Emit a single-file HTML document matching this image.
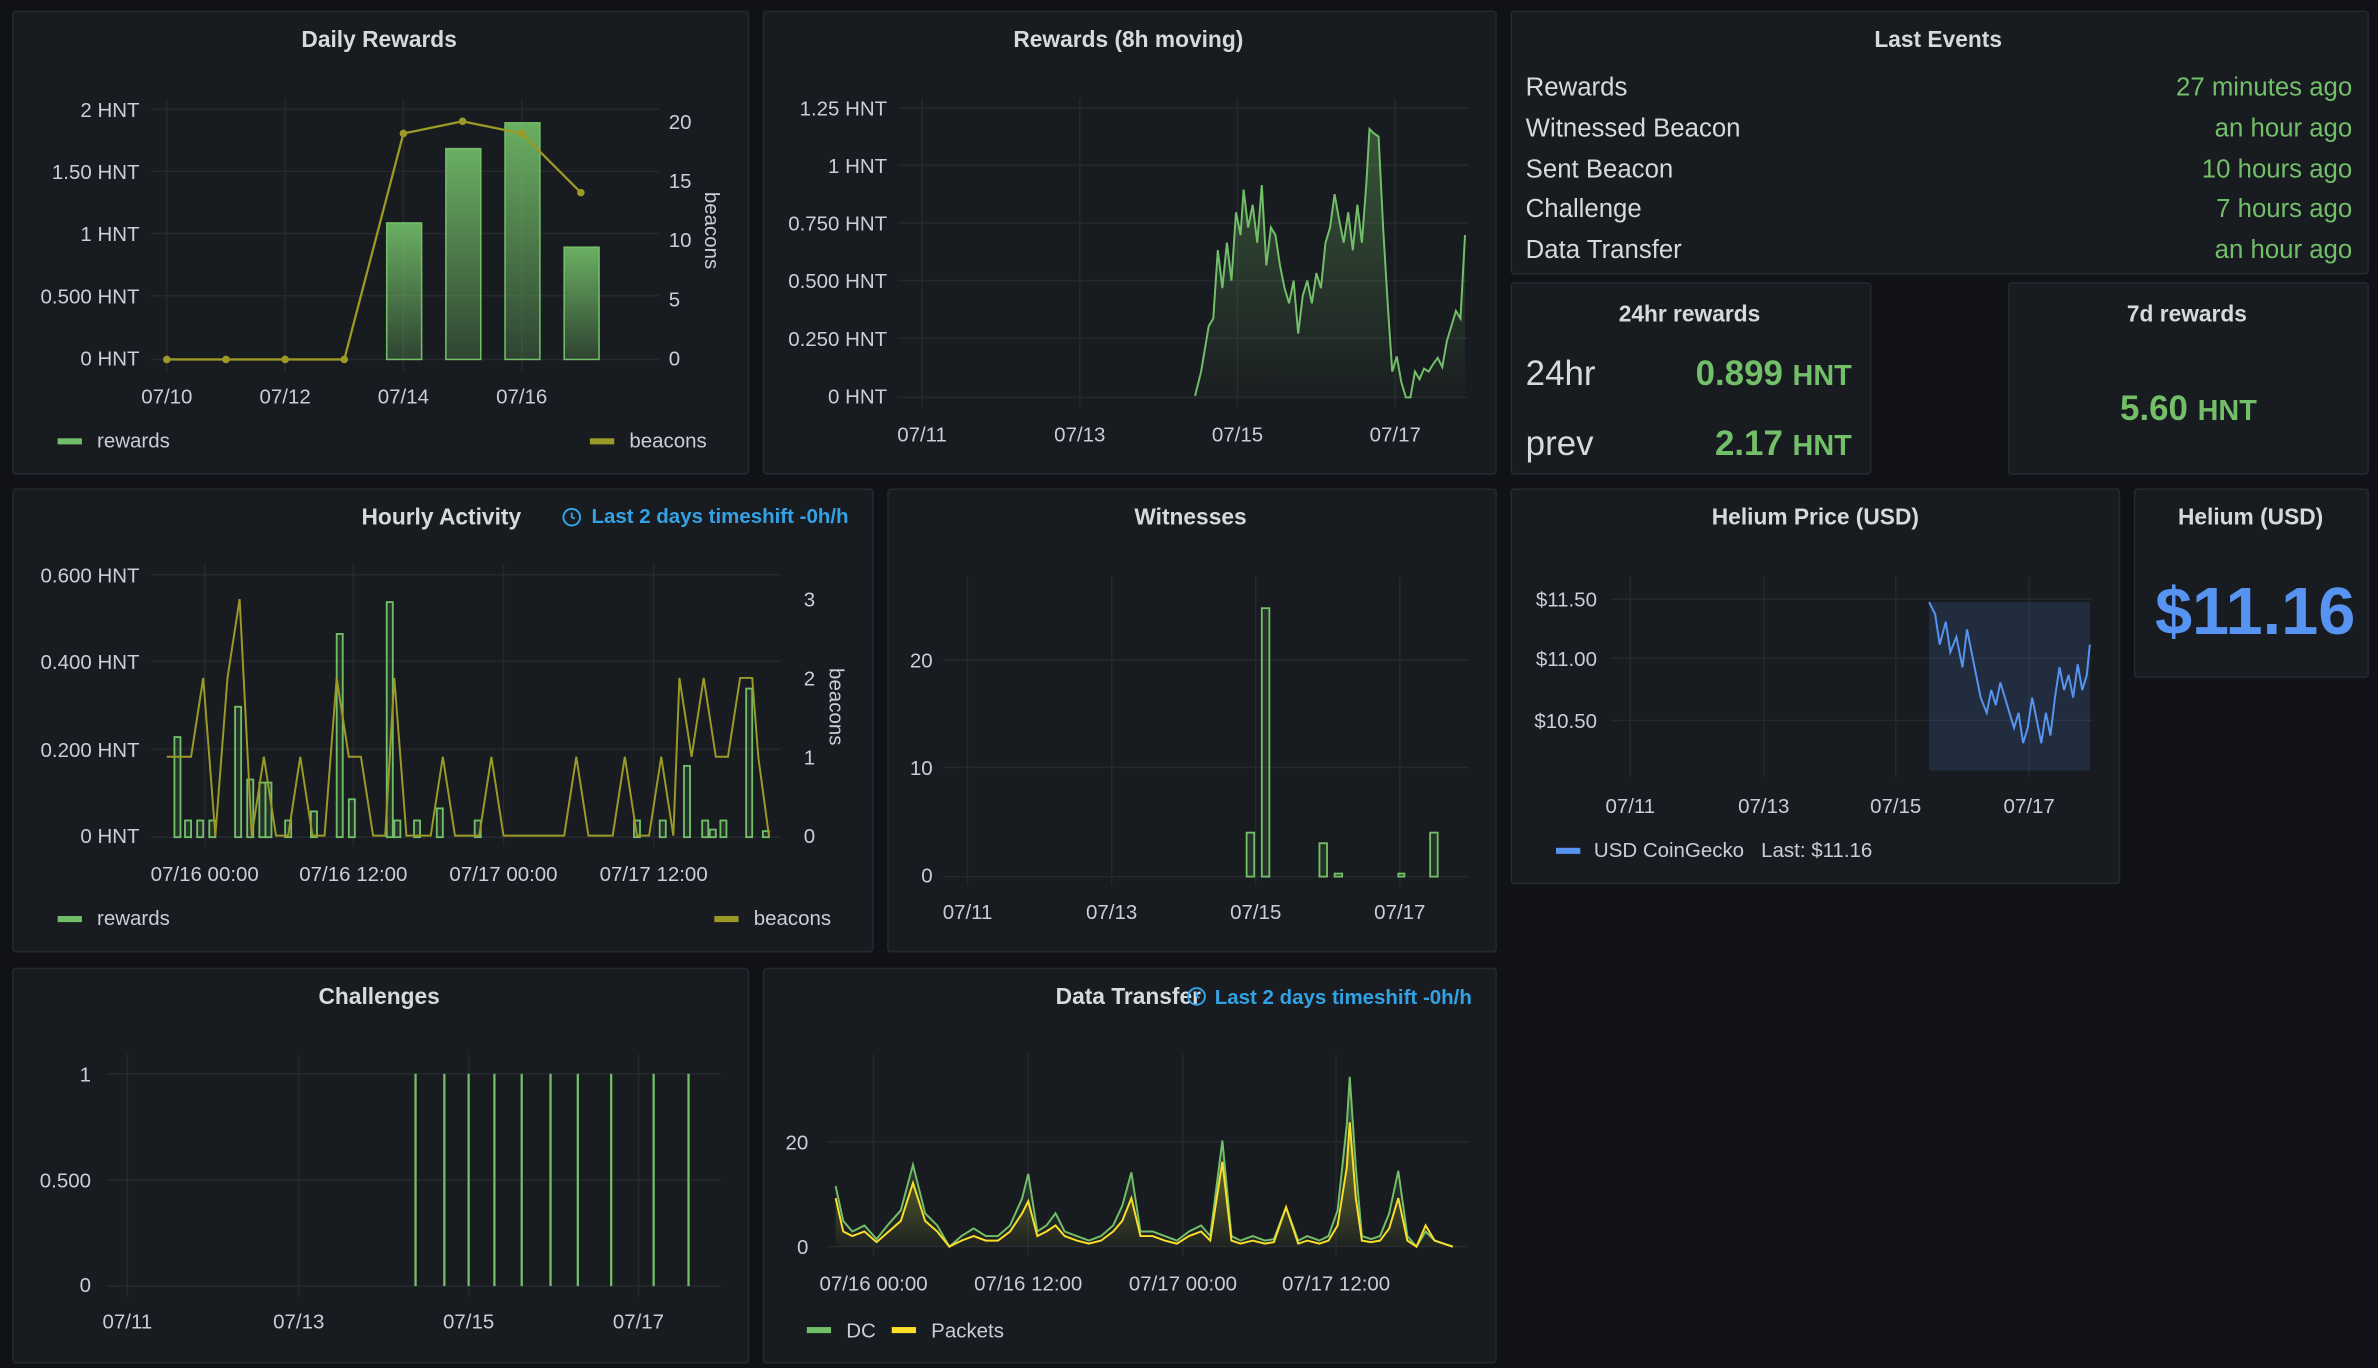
<!DOCTYPE html>
<html><head><meta charset="utf-8"><style>
html,body{margin:0;padding:0;background:#111217;}
svg{display:block;font-family:"Liberation Sans",sans-serif;}
.p{fill:#181b1f;stroke:#262930;stroke-width:1;}
.t{fill:#d8d9da;font-size:15px;font-weight:bold;text-anchor:middle;}
.l{fill:#ccccdc;font-size:13.5px;}
.r{text-anchor:end;}
.m{text-anchor:middle;}
.g{stroke:#25282d;stroke-width:1;}
.ev{fill:#d8d9da;font-size:17px;}
.evr{fill:#73bf69;font-size:17px;text-anchor:end;}
.blue{fill:#33a2e5;font-size:13.5px;font-weight:bold;}
</style></head><body>
<svg width="2378" height="1368" viewBox="0 0 1568 902" preserveAspectRatio="none">
<defs>
<linearGradient id="gb" x1="0" y1="0" x2="0" y2="1"><stop offset="0" stop-color="#73bf69" stop-opacity="0.9"/><stop offset="1" stop-color="#73bf69" stop-opacity="0.25"/></linearGradient>
<linearGradient id="ga" x1="0" y1="0" x2="0" y2="1"><stop offset="0" stop-color="#73bf69" stop-opacity="0.35"/><stop offset="1" stop-color="#73bf69" stop-opacity="0.02"/></linearGradient>
<linearGradient id="gy" x1="0" y1="0" x2="0" y2="1"><stop offset="0" stop-color="#fade2a" stop-opacity="0.35"/><stop offset="1" stop-color="#fade2a" stop-opacity="0.02"/></linearGradient>
</defs>
<rect width="1568" height="902" fill="#111217"/>
<rect class="p" x="8.5" y="7.5" width="485" height="305" rx="2"/>
<rect class="p" x="503.5" y="7.5" width="483" height="305" rx="2"/>
<rect class="p" x="996.5" y="7.5" width="565" height="173" rx="2"/>
<rect class="p" x="996.5" y="186.5" width="237" height="126" rx="2"/>
<rect class="p" x="1324.5" y="186.5" width="237" height="126" rx="2"/>
<rect class="p" x="8.5" y="322.5" width="567" height="305" rx="2"/>
<rect class="p" x="585.5" y="322.5" width="401" height="305" rx="2"/>
<rect class="p" x="996.5" y="322.5" width="401" height="260" rx="2"/>
<rect class="p" x="1407.5" y="322.5" width="154" height="124" rx="2"/>
<rect class="p" x="8.5" y="638.5" width="485" height="260" rx="2"/>
<rect class="p" x="503.5" y="638.5" width="483" height="260" rx="2"/>

<text class="t" x="250" y="31">Daily Rewards</text>
<g class="g"><line x1="100" y1="72" x2="435" y2="72"/><line x1="100" y1="113" x2="435" y2="113"/><line x1="100" y1="154" x2="435" y2="154"/><line x1="100" y1="195" x2="435" y2="195"/><line x1="100" y1="237" x2="435" y2="237"/>
<line x1="110" y1="65" x2="110" y2="245"/><line x1="188" y1="65" x2="188" y2="245"/><line x1="266" y1="65" x2="266" y2="245"/><line x1="344" y1="65" x2="344" y2="245"/></g>
<g class="l r"><text x="92" y="77">2 HNT</text><text x="92" y="118">1.50 HNT</text><text x="92" y="159">1 HNT</text><text x="92" y="200">0.500 HNT</text><text x="92" y="241">0 HNT</text></g>
<g class="l"><text x="441" y="85">20</text><text x="441" y="124">15</text><text x="441" y="163">10</text><text x="441" y="202">5</text><text x="441" y="241">0</text></g>
<text class="l m" transform="translate(465,152) rotate(90)">beacons</text>
<g class="l m"><text x="110" y="266">07/10</text><text x="188" y="266">07/12</text><text x="266" y="266">07/14</text><text x="344" y="266">07/16</text></g>
<g fill="url(#gb)" stroke="#73bf69" stroke-width="1"><rect x="255" y="147" width="23" height="90"/><rect x="294" y="98" width="23" height="139"/><rect x="333" y="81" width="23" height="156"/><rect x="372" y="163" width="23" height="74"/></g>
<polyline fill="none" stroke="#9b9a27" stroke-width="1.5" points="110,237 149,237 188,237 227,237 266,88 305,80 344,88 383,127"/>
<g fill="#9b9a27"><circle cx="110" cy="237" r="2.5"/><circle cx="149" cy="237" r="2.5"/><circle cx="188" cy="237" r="2.5"/><circle cx="227" cy="237" r="2.5"/><circle cx="266" cy="88" r="2.5"/><circle cx="305" cy="80" r="2.5"/><circle cx="344" cy="88" r="2.5"/><circle cx="383" cy="127" r="2.5"/></g>
<rect x="38" y="289" width="16" height="4" fill="#73bf69"/><text class="l" x="64" y="295">rewards</text>
<rect x="389" y="289" width="16" height="4" fill="#9b9a27"/><text class="l" x="415" y="295">beacons</text>

<text class="t" x="744" y="31">Rewards (8h moving)</text>
<g class="g"><line x1="592" y1="71" x2="968" y2="71"/><line x1="592" y1="109" x2="968" y2="109"/><line x1="592" y1="147" x2="968" y2="147"/><line x1="592" y1="185" x2="968" y2="185"/><line x1="592" y1="223" x2="968" y2="223"/><line x1="592" y1="262" x2="968" y2="262"/>
<line x1="608" y1="65" x2="608" y2="268"/><line x1="712" y1="65" x2="712" y2="268"/><line x1="816" y1="65" x2="816" y2="268"/><line x1="920" y1="65" x2="920" y2="268"/></g>
<g class="l r"><text x="585" y="76">1.25 HNT</text><text x="585" y="114">1 HNT</text><text x="585" y="152">0.750 HNT</text><text x="585" y="190">0.500 HNT</text><text x="585" y="228">0.250 HNT</text><text x="585" y="266">0 HNT</text></g>
<g class="l m"><text x="608" y="291">07/11</text><text x="712" y="291">07/13</text><text x="816" y="291">07/15</text><text x="920" y="291">07/17</text></g>
<path fill="url(#ga)" d="M788,261 L792,245 797,215 800,210 803,165 806,190 809,160 812,185 815,140 818,155 820,125 823,150 826,135 829,160 832,122 835,175 838,150 841,155 844,175 847,190 850,200 853,185 856,220 859,195 862,185 865,200 868,180 871,190 874,160 877,150 880,128 883,145 886,160 889,140 892,165 895,135 898,160 901,120 903,85 906,88 909,90 912,150 915,200 918,245 921,235 924,252 927,262 930,262 933,245 936,250 939,243 942,245 945,240 948,236 951,242 954,225 957,215 960,205 963,210 966,155 L966,262 L788,262 Z"/>
<polyline fill="none" stroke="#73bf69" stroke-width="1.3" points="788,261 792,245 797,215 800,210 803,165 806,190 809,160 812,185 815,140 818,155 820,125 823,150 826,135 829,160 832,122 835,175 838,150 841,155 844,175 847,190 850,200 853,185 856,220 859,195 862,185 865,200 868,180 871,190 874,160 877,150 880,128 883,145 886,160 889,140 892,165 895,135 898,160 901,120 903,85 906,88 909,90 912,150 915,200 918,245 921,235 924,252 927,262 930,262 933,245 936,250 939,243 942,245 945,240 948,236 951,242 954,225 957,215 960,205 963,210 966,155"/>

<text class="t" x="1278" y="31">Last Events</text>
<text class="ev" x="1006" y="63">Rewards</text><text class="evr" x="1551" y="63">27 minutes ago</text>
<text class="ev" x="1006" y="90">Witnessed Beacon</text><text class="evr" x="1551" y="90">an hour ago</text>
<text class="ev" x="1006" y="117">Sent Beacon</text><text class="evr" x="1551" y="117">10 hours ago</text>
<text class="ev" x="1006" y="143">Challenge</text><text class="evr" x="1551" y="143">7 hours ago</text>
<text class="ev" x="1006" y="170">Data Transfer</text><text class="evr" x="1551" y="170">an hour ago</text>

<text class="t" x="1114" y="212">24hr rewards</text>
<text x="1006" y="254" fill="#d8d9da" font-size="23">24hr</text>
<text x="1221" y="254" fill="#73bf69" font-size="23" font-weight="bold" text-anchor="end">0.899 <tspan font-size="19">HNT</tspan></text>
<text x="1006" y="300" fill="#d8d9da" font-size="23">prev</text>
<text x="1221" y="300" fill="#73bf69" font-size="23" font-weight="bold" text-anchor="end">2.17 <tspan font-size="19">HNT</tspan></text>
<text class="t" x="1442" y="212">7d rewards</text>
<text x="1443" y="277" fill="#73bf69" font-size="23" font-weight="bold" text-anchor="middle">5.60 <tspan font-size="19">HNT</tspan></text>

<text class="t" x="291" y="346">Hourly Activity</text>
<circle cx="377" cy="341" r="5.5" fill="none" stroke="#33a2e5" stroke-width="1.3"/><path d="M377,338 L377,341 L379,342" stroke="#33a2e5" fill="none" stroke-width="1.2"/>
<text class="blue" x="390" y="345">Last 2 days timeshift -0h/h</text>
<g class="g"><line x1="100" y1="379" x2="515" y2="379"/><line x1="100" y1="436" x2="515" y2="436"/><line x1="100" y1="494" x2="515" y2="494"/><line x1="100" y1="552" x2="515" y2="552"/>
<line x1="135" y1="372" x2="135" y2="558"/><line x1="233" y1="372" x2="233" y2="558"/><line x1="332" y1="372" x2="332" y2="558"/><line x1="431" y1="372" x2="431" y2="558"/></g>
<g class="l r"><text x="92" y="384">0.600 HNT</text><text x="92" y="441">0.400 HNT</text><text x="92" y="499">0.200 HNT</text><text x="92" y="556">0 HNT</text></g>
<g class="l"><text x="530" y="400">3</text><text x="530" y="452">2</text><text x="530" y="504">1</text><text x="530" y="556">0</text></g>
<text class="l m" transform="translate(547,466) rotate(90)">beacons</text>
<g class="l m"><text x="135" y="581">07/16 00:00</text><text x="233" y="581">07/16 12:00</text><text x="332" y="581">07/17 00:00</text><text x="431" y="581">07/17 12:00</text></g>
<g fill="#73bf69" fill-opacity="0.15" stroke="#73bf69" stroke-width="1.2">
<rect x="115" y="486" width="4" height="66"/><rect x="122" y="541" width="4" height="11"/><rect x="130" y="541" width="4" height="11"/><rect x="138" y="541" width="4" height="11"/><rect x="155" y="466" width="4" height="86"/><rect x="163" y="514" width="4" height="38"/><rect x="171" y="516" width="4" height="36"/><rect x="175" y="516" width="4" height="36"/><rect x="188" y="541" width="4" height="11"/><rect x="205" y="535" width="4" height="17"/><rect x="222" y="418" width="4" height="134"/><rect x="230" y="527" width="4" height="25"/><rect x="255" y="397" width="4" height="155"/><rect x="260" y="541" width="4" height="11"/><rect x="273" y="541" width="4" height="11"/><rect x="288" y="533" width="4" height="19"/><rect x="313" y="541" width="4" height="11"/><rect x="418" y="541" width="4" height="11"/><rect x="435" y="541" width="4" height="11"/><rect x="451" y="505" width="4" height="47"/><rect x="463" y="541" width="4" height="11"/><rect x="468" y="547" width="4" height="5"/><rect x="475" y="541" width="4" height="11"/><rect x="492" y="454" width="4" height="98"/><rect x="503" y="548" width="4" height="4"/></g>
<polyline fill="none" stroke="#9b9a27" stroke-width="1.3" points="110,499 118,499 126,499 134,447 142,551 150,447 158,395 166,551 174,499 182,551 190,551 198,499 206,551 214,551 222,447 230,499 238,499 246,551 254,551 260,447 268,551 276,551 284,551 292,499 300,551 308,551 316,551 324,499 332,551 340,551 348,551 356,551 364,551 372,551 380,499 388,551 396,551 404,551 412,499 420,551 428,551 436,499 444,551 448,447 456,499 464,447 472,499 480,499 488,447 496,447 500,499 507,551"/>
<rect x="38" y="604" width="16" height="4" fill="#73bf69"/><text class="l" x="64" y="610">rewards</text>
<rect x="471" y="604" width="16" height="4" fill="#9b9a27"/><text class="l" x="497" y="610">beacons</text>

<text class="t" x="785" y="346">Witnesses</text>
<g class="g"><line x1="622" y1="435" x2="968" y2="435"/><line x1="622" y1="506" x2="968" y2="506"/><line x1="622" y1="578" x2="968" y2="578"/>
<line x1="638" y1="380" x2="638" y2="584"/><line x1="733" y1="380" x2="733" y2="584"/><line x1="828" y1="380" x2="828" y2="584"/><line x1="923" y1="380" x2="923" y2="584"/></g>
<g class="l r"><text x="615" y="440">20</text><text x="615" y="511">10</text><text x="615" y="582">0</text></g>
<g class="l m"><text x="638" y="606">07/11</text><text x="733" y="606">07/13</text><text x="828" y="606">07/15</text><text x="923" y="606">07/17</text></g>
<g fill="#73bf69" fill-opacity="0.15" stroke="#73bf69" stroke-width="1.2"><rect x="822" y="549" width="5" height="29"/><rect x="832" y="401" width="5" height="177"/><rect x="870" y="556" width="5" height="22"/><rect x="880" y="576" width="5" height="2"/><rect x="922" y="576" width="4" height="2"/><rect x="943" y="549" width="5" height="29"/></g>

<text class="t" x="1197" y="346">Helium Price (USD)</text>
<g class="g"><line x1="1062" y1="395" x2="1380" y2="395"/><line x1="1062" y1="434" x2="1380" y2="434"/><line x1="1062" y1="475" x2="1380" y2="475"/>
<line x1="1075" y1="380" x2="1075" y2="512"/><line x1="1163" y1="380" x2="1163" y2="512"/><line x1="1250" y1="380" x2="1250" y2="512"/><line x1="1338" y1="380" x2="1338" y2="512"/></g>
<g class="l r"><text x="1053" y="400">$11.50</text><text x="1053" y="439">$11.00</text><text x="1053" y="480">$10.50</text></g>
<g class="l m"><text x="1075" y="536">07/11</text><text x="1163" y="536">07/13</text><text x="1250" y="536">07/15</text><text x="1338" y="536">07/17</text></g>
<rect x="1272" y="397" width="106" height="111" fill="#5794f2" fill-opacity="0.15"/>
<polyline fill="none" stroke="#5794f2" stroke-width="1.3" points="1272,397 1276,405 1279,425 1283,410 1286,430 1290,420 1294,440 1297,415 1300,430 1303,445 1306,460 1310,470 1313,455 1316,465 1319,450 1322,460 1325,470 1328,480 1331,470 1334,490 1337,480 1340,460 1343,475 1346,490 1349,470 1352,485 1355,460 1358,440 1361,455 1364,445 1367,460 1370,438 1373,455 1376,445 1378,425"/>
<rect x="1026" y="559" width="16" height="4" fill="#5794f2"/><text class="l" x="1051" y="565">USD CoinGecko&#160;&#160;&#160;Last: $11.16</text>

<text class="t" x="1484" y="346">Helium (USD)</text>
<text x="1487" y="418" fill="#5794f2" font-size="44" font-weight="bold" text-anchor="middle">$11.16</text>

<text class="t" x="250" y="662">Challenges</text>
<g class="g"><line x1="70" y1="708" x2="475" y2="708"/><line x1="70" y1="778" x2="475" y2="778"/><line x1="70" y1="848" x2="475" y2="848"/>
<line x1="84" y1="695" x2="84" y2="855"/><line x1="197" y1="695" x2="197" y2="855"/><line x1="309" y1="695" x2="309" y2="855"/><line x1="421" y1="695" x2="421" y2="855"/></g>
<g class="l r"><text x="60" y="713">1</text><text x="60" y="783">0.500</text><text x="60" y="852">0</text></g>
<g class="l m"><text x="84" y="876">07/11</text><text x="197" y="876">07/13</text><text x="309" y="876">07/15</text><text x="421" y="876">07/17</text></g>
<g stroke="#73bf69" stroke-width="1.5"><line x1="274" y1="708" x2="274" y2="848"/><line x1="293" y1="708" x2="293" y2="848"/><line x1="309" y1="708" x2="309" y2="848"/><line x1="326" y1="708" x2="326" y2="848"/><line x1="344" y1="708" x2="344" y2="848"/><line x1="363" y1="708" x2="363" y2="848"/><line x1="381" y1="708" x2="381" y2="848"/><line x1="403" y1="708" x2="403" y2="848"/><line x1="431" y1="708" x2="431" y2="848"/><line x1="454" y1="708" x2="454" y2="848"/></g>

<text class="t" x="744" y="662">Data Transfer</text>
<circle cx="789" cy="657" r="5.5" fill="none" stroke="#33a2e5" stroke-width="1.3"/><path d="M789,654 L789,657 L791,658" stroke="#33a2e5" fill="none" stroke-width="1.2"/>
<text class="blue" x="801" y="662">Last 2 days timeshift -0h/h</text>
<g class="g"><line x1="545" y1="753" x2="968" y2="753"/><line x1="545" y1="822" x2="968" y2="822"/>
<line x1="576" y1="695" x2="576" y2="828"/><line x1="678" y1="695" x2="678" y2="828"/><line x1="780" y1="695" x2="780" y2="828"/><line x1="881" y1="695" x2="881" y2="828"/></g>
<g class="l r"><text x="533" y="758">20</text><text x="533" y="827">0</text></g>
<g class="l m"><text x="576" y="851">07/16 00:00</text><text x="678" y="851">07/16 12:00</text><text x="780" y="851">07/17 00:00</text><text x="881" y="851">07/17 12:00</text></g>
<path fill="url(#ga)" d="M551,782 L556,805 562,812 570,808 578,817 586,807 594,798 602,768 610,800 618,808 626,822 634,815 642,810 650,815 658,815 666,808 674,790 678,774 684,812 690,808 696,800 702,812 710,815 718,818 726,815 734,808 740,795 746,773 752,812 760,812 768,815 776,818 784,812 792,808 798,815 806,752 812,815 818,818 826,815 834,818 840,817 848,796 856,818 862,815 870,818 876,815 882,798 888,742 890,710 894,770 898,815 904,817 910,815 916,800 922,772 928,815 934,822 940,812 946,818 952,820 958,822 L551,822 Z"/>
<polyline fill="none" stroke="#73bf69" stroke-width="1.3" points="551,782 556,805 562,812 570,808 578,817 586,807 594,798 602,768 610,800 618,808 626,822 634,815 642,810 650,815 658,815 666,808 674,790 678,774 684,812 690,808 696,800 702,812 710,815 718,818 726,815 734,808 740,795 746,773 752,812 760,812 768,815 776,818 784,812 792,808 798,815 806,752 812,815 818,818 826,815 834,818 840,817 848,796 856,818 862,815 870,818 876,815 882,798 888,742 890,710 894,770 898,815 904,817 910,815 916,800 922,772 928,815 934,822 940,812 946,818 952,820 958,822"/>
<path fill="url(#gy)" d="M551,790 L556,812 562,815 570,812 578,819 586,812 594,805 602,780 610,805 618,812 626,822 634,818 642,815 650,818 658,818 666,812 674,800 678,792 684,815 690,812 696,808 702,815 710,818 718,820 726,818 734,812 740,805 746,790 752,815 760,815 768,818 776,820 784,815 792,812 798,818 806,766 812,818 818,820 826,818 834,820 840,819 848,796 856,820 862,818 870,820 876,818 882,808 888,770 890,740 894,790 898,818 904,819 910,818 916,810 922,790 928,818 934,822 940,808 946,818 952,820 958,822 L551,822 Z"/>
<polyline fill="none" stroke="#fade2a" stroke-width="1.3" points="551,790 556,812 562,815 570,812 578,819 586,812 594,805 602,780 610,805 618,812 626,822 634,818 642,815 650,818 658,818 666,812 674,800 678,792 684,815 690,812 696,808 702,815 710,818 718,820 726,818 734,812 740,805 746,790 752,815 760,815 768,818 776,820 784,815 792,812 798,818 806,766 812,818 818,820 826,818 834,820 840,819 848,796 856,820 862,818 870,820 876,818 882,808 888,770 890,740 894,790 898,818 904,819 910,818 916,810 922,790 928,818 934,822 940,808 946,818 952,820 958,822"/>
<rect x="532" y="875" width="16" height="4" fill="#73bf69"/><text class="l" x="558" y="882">DC</text>
<rect x="588" y="875" width="16" height="4" fill="#fade2a"/><text class="l" x="614" y="882">Packets</text>
</svg>
</body></html>
